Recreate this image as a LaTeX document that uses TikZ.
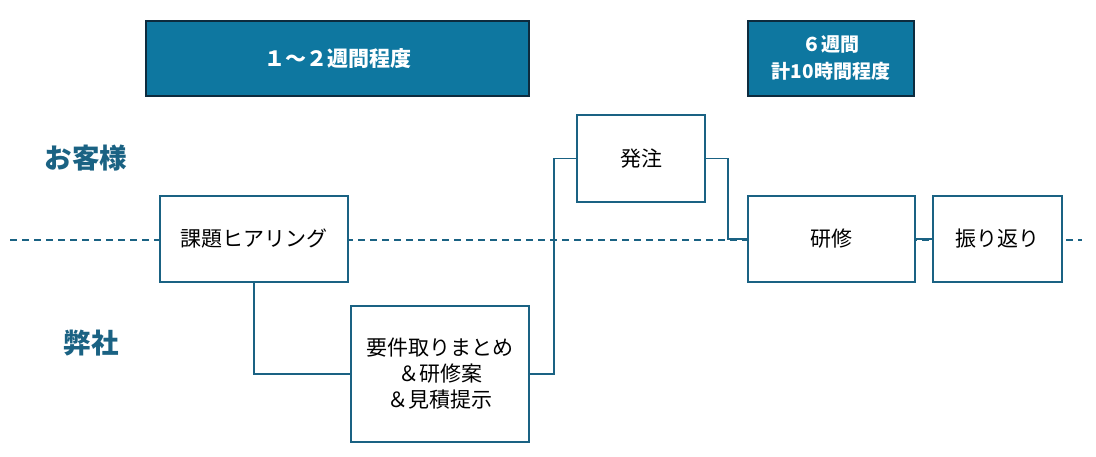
\documentclass[tikz,border=0pt]{standalone}
\usepackage{fontspec}
\setmainfont{Noto Sans CJK JP}
\usepackage{tikz}
\usetikzlibrary{positioning}
\definecolor{headfill}{HTML}{0E77A0}
\definecolor{headline}{HTML}{0D2B3E}
\definecolor{flowline}{HTML}{1A6283}
\tikzset{
  head/.style={draw=headline, fill=headfill, line width=1.6pt, text=white, font=\fontsize{19}{27}\selectfont\bfseries, align=center, inner sep=0pt},
  stepbox/.style={draw=flowline, line width=2pt, fill=white, font=\fontsize{21}{26}\selectfont, align=center, inner sep=0pt},
  side/.style={text=flowline, font=\fontsize{27.5}{30}\selectfont\bfseries},
  flow/.style={draw=flowline, line width=1.6pt}
}
\begin{document}
\begin{tikzpicture}[x=1pt,y=-1pt]
\useasboundingbox (0,0) rectangle (1096,457);

% period headings
\node[head, font=\fontsize{21}{27}\selectfont\bfseries, minimum width=383, minimum height=75] (span1) at (337.5,58.5) {１～２週間程度};
\node[head, minimum width=166, minimum height=75] (span2) at (831,58.5) {６週間\\計10時間程度};

\node[side] (client) at (86,158) {お客様};
\node[side] (us) at (91,343) {弊社};

% border between the two sides
\draw[flowline, line width=1.5pt, dash pattern=on 7pt off 5pt] (10,240) -- (1082,240);

\node[stepbox, minimum width=188, minimum height=86] (hear) at (254,239) {課題ヒアリング};
\node[stepbox, minimum width=178, minimum height=136] (plan) at (440,374) {要件取りまとめ\\＆研修案\\＆見積提示};
\node[stepbox, minimum width=128, minimum height=87] (order) at (641,158.5) {発注};
\node[stepbox, minimum width=167, minimum height=86] (train) at (831.5,239) {研修};
\node[stepbox, minimum width=129, minimum height=86] (review) at (997.5,239) {振り返り};

\draw[flow] (hear.south) |- (plan.west);
\draw[flow] (plan.east) -- ++(24,0) |- (order.west);
\draw[flow] (order.east) -- ++(22,0) |- (train.west);
\draw[flow] (train.east) -- (review.west);
\end{tikzpicture}
\end{document}
